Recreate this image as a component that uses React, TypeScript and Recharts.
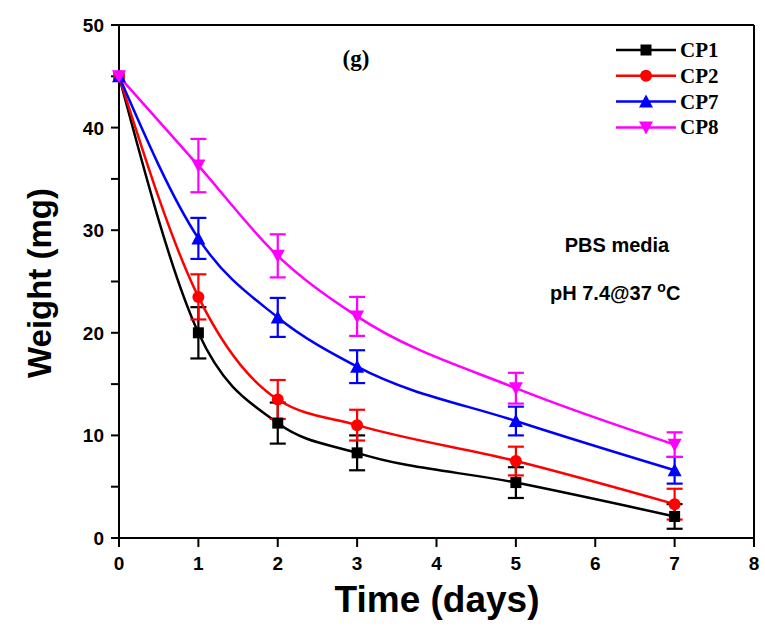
import {
  Customized,
  ErrorBar,
  Legend,
  Line,
  LineChart,
  ReferenceLine,
  XAxis,
  YAxis,
} from "recharts";

const DAYS = [0, 1, 2, 3, 5, 7];

const CP1 = [45, 20.0, 11.2, 8.3, 5.4, 2.1];
const CP1_ERR = [null, 2.5, 2.0, 1.7, 1.5, 1.2];
const CP2 = [45, 23.5, 13.5, 11.0, 7.5, 3.3];
const CP2_ERR = [null, 2.2, 1.9, 1.5, 1.4, 1.5];
const CP7 = [45, 29.2, 21.5, 16.7, 11.4, 6.6];
const CP7_ERR = [null, 2.0, 1.9, 1.6, 1.4, 1.3];
const CP8 = [45, 36.3, 27.5, 21.6, 14.6, 9.1];
const CP8_ERR = [null, 2.6, 2.1, 1.9, 1.5, 1.2];

const X_TICKS = [0, 1, 2, 3, 4, 5, 6, 7, 8];
const Y_TICKS = [0, 5, 10, 15, 20, 25, 30, 35, 40, 45, 50];

const rows = DAYS.map((d, i) => ({
  day: d,
  cp1: CP1[i],
  cp1Err: CP1_ERR[i],
  cp2: CP2[i],
  cp2Err: CP2_ERR[i],
  cp7: CP7[i],
  cp7Err: CP7_ERR[i],
  cp8: CP8[i],
  cp8Err: CP8_ERR[i],
}));

type Shape = "square" | "circle" | "up" | "down";

const SERIES: { key: string; name: string; color: string; shape: Shape }[] = [
  { key: "cp1", name: "CP1", color: "#000000", shape: "square" },
  { key: "cp2", name: "CP2", color: "#ff0000", shape: "circle" },
  { key: "cp7", name: "CP7", color: "#0000ff", shape: "up" },
  { key: "cp8", name: "CP8", color: "#ff00ff", shape: "down" },
];

const SANS = "'Liberation Sans', Arial, sans-serif";
const SERIF = "'Liberation Serif', 'Times New Roman', serif";

function Marker({ cx, cy, shape, color }: { cx: number; cy: number; shape: Shape; color: string }) {
  if (shape === "square") {
    return <rect x={cx - 5.5} y={cy - 5.5} width={11} height={11} fill={color} />;
  }
  if (shape === "circle") {
    return <circle cx={cx} cy={cy} r={6} fill={color} />;
  }
  if (shape === "up") {
    return <polygon points={`${cx},${cy - 7} ${cx - 7},${cy + 6} ${cx + 7},${cy + 6}`} fill={color} />;
  }
  return <polygon points={`${cx},${cy + 7} ${cx - 7},${cy - 6} ${cx + 7},${cy - 6}`} fill={color} />;
}

const makeDot = (shape: Shape, color: string) => (props: any) => {
  const { cx, cy, index } = props;
  if (cx == null || cy == null) return <g key={index} />;
  return (
    <g key={`${shape}-${index}`}>
      <Marker cx={cx} cy={cy} shape={shape} color={color} />
    </g>
  );
};

const XTick = (props: any) => {
  const { x, y, payload } = props;
  return (
    <text x={x} y={y} dy={21} textAnchor="middle" fontFamily={SANS} fontWeight="bold" fontSize={19} fill="#000">
      {payload.value}
    </text>
  );
};

const YTick = (props: any) => {
  const { x, y, payload } = props;
  if (payload.value % 10 !== 0) return <g />;
  return (
    <text x={x - 5} y={y} dy={7} textAnchor="end" fontFamily={SANS} fontWeight="bold" fontSize={19} fill="#000">
      {payload.value}
    </text>
  );
};

const LegendBox = () => (
  <svg width={140} height={110}>
    {SERIES.map((s, i) => {
      const y = 12 + i * 25.8;
      return (
        <g key={s.key}>
          <line x1={4} x2={64} y1={y} y2={y} stroke={s.color} strokeWidth={2.5} />
          <Marker cx={34} cy={y} shape={s.shape} color={s.color} />
          <text x={68} y={y + 7} fontFamily={SERIF} fontWeight="bold" fontSize={21} fill="#000">
            {s.name}
          </text>
        </g>
      );
    })}
  </svg>
);

const Annotations = () => (
  <g>
    <text x={356} y={66} textAnchor="middle" fontFamily={SERIF} fontWeight="bold" fontSize={23} fill="#000">
      (g)
    </text>
    <text x={617} y={252} textAnchor="middle" fontFamily={SANS} fontWeight="bold" fontSize={20} fill="#000">
      PBS media
    </text>
    <text x={550} y={300} fontFamily={SANS} fontWeight="bold" fontSize={20} fill="#000">
      pH 7.4@37{" "}
      <tspan dy={-8} fontSize={14}>
        o
      </tspan>
      <tspan dy={8}>C</tspan>
    </text>
    <text x={437} y={612} textAnchor="middle" fontFamily={SANS} fontWeight="bold" fontSize={37} fill="#000">
      Time (days)
    </text>
    <text
      x={0}
      y={0}
      transform="translate(51, 283) rotate(-90)"
      textAnchor="middle"
      fontFamily={SANS}
      fontWeight="bold"
      fontSize={33}
      fill="#000"
    >
      Weight (mg)
    </text>
  </g>
);

export default function App() {
  return (
    <div style={{ position: "absolute", left: 0, top: 0, width: 765, height: 629, background: "#fff" }}>
      <LineChart
        width={765}
        height={629}
        data={rows}
        margin={{ top: 25, right: 11, left: 79, bottom: 61 }}
      >
        <XAxis
          dataKey="day"
          type="number"
          domain={[0, 8]}
          ticks={X_TICKS}
          interval={0}
          height={30}
          tick={<XTick />}
          tickSize={9}
          axisLine={{ stroke: "#000", strokeWidth: 2 }}
          tickLine={{ stroke: "#000", strokeWidth: 2 }}
        />
        <YAxis
          type="number"
          domain={[0, 50]}
          ticks={Y_TICKS}
          interval={0}
          width={40}
          tick={<YTick />}
          tickSize={8}
          axisLine={{ stroke: "#000", strokeWidth: 2 }}
          tickLine={{ stroke: "#000", strokeWidth: 2 }}
        />
        <ReferenceLine y={50} stroke="#000" strokeWidth={2} />
        <ReferenceLine x={8} stroke="#000" strokeWidth={2} />
        {SERIES.map((s) => (
          <Line
            key={s.key}
            type="monotone"
            dataKey={s.key}
            name={s.name}
            stroke={s.color}
            strokeWidth={2.5}
            dot={makeDot(s.shape, s.color)}
            activeDot={false}
            isAnimationActive={false}
          >
            <ErrorBar
              dataKey={`${s.key}Err`}
              width={8}
              stroke={s.color}
              strokeWidth={2.2}
              direction="y"
              isAnimationActive={false}
            />
          </Line>
        ))}
        <Legend
          layout="horizontal"
          verticalAlign="middle"
          align="center"
          wrapperStyle={{ left: 612, top: 38, width: 140, height: 110 }}
          content={() => <LegendBox />}
        />
        <Customized component={Annotations} />
      </LineChart>
    </div>
  );
}
